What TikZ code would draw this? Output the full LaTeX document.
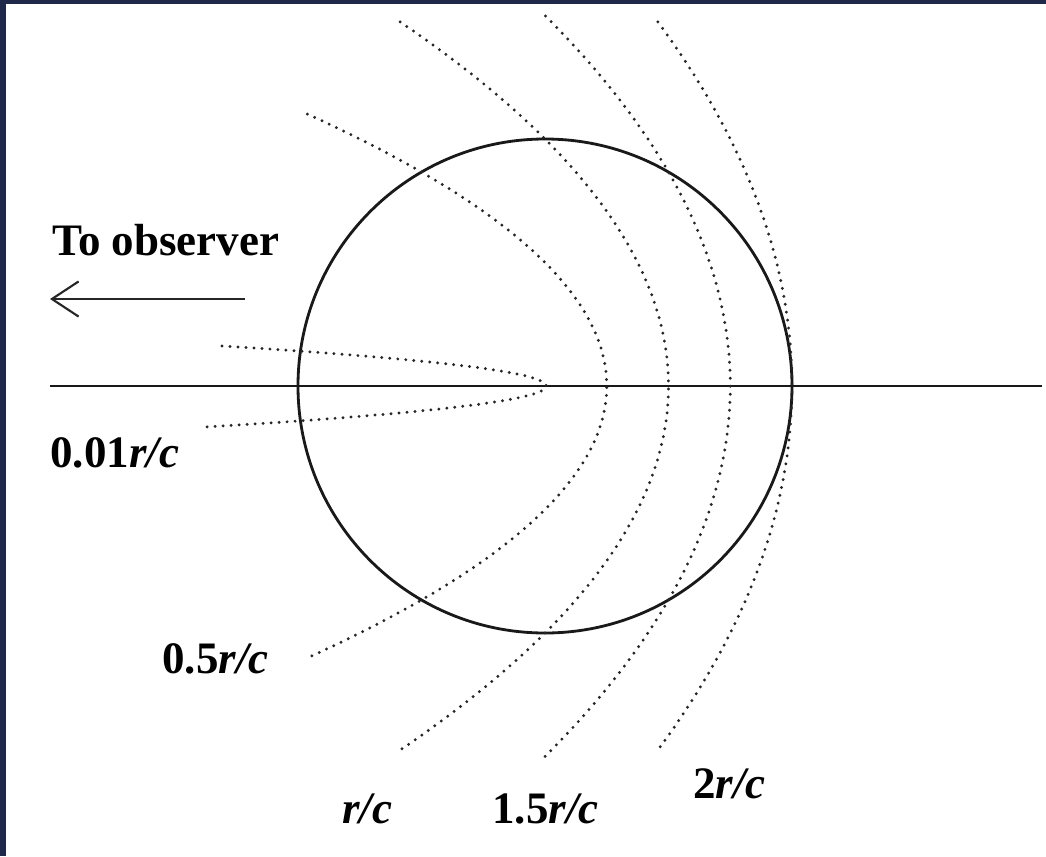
\documentclass[tikz,border=0pt]{standalone}
\usepackage{fontspec}
\setmainfont{Liberation Serif}
\usetikzlibrary{arrows.meta}
\definecolor{frameblue}{HTML}{1F2849}
\begin{document}
\begin{tikzpicture}[x=0.025cm, y=-0.025cm,
  lbl/.style={font=\fontsize{32}{38}\selectfont\bfseries, inner sep=0pt, anchor=base west},
  front/.style={line width=2.3pt, dash pattern=on 0pt off 5.7pt, line cap=round, black!85}]
  \fill[frameblue] (0,0) rectangle (1046,856);
  \fill[white] (6,4) rectangle (1046,856);
  \useasboundingbox (0,0) rectangle (1046,856);
  \coordinate (ctr) at (545,386);
  \coordinate (axisL) at (50,386);
  \coordinate (axisR) at (1042,386);
  \coordinate (tail) at (245,299);
  \coordinate (tip) at (50,299);
  \draw[line width=2pt, black!90] (axisL) -- (axisR);
  \draw[line width=2pt, black!90] (ctr) circle (247);
  \draw[line width=1.5pt, black!85, -{Straight Barb[length=19pt,width=25pt]}] (tail) -- (tip);
  \foreach \t/\a/\b in {0.01/-0.162/0.166, 0.5/-1.101/1.101, 1/-1.474/1.474, 1.5/-1.498/1.502, 2/-1.474/1.486}
    \draw[front] plot[domain=\a:\b, samples=80, smooth, variable=\s]
      ({545+247*(\t/2-\s*\s/(2*\t))}, {386+247*\s});
  \node[lbl] (obs) at (52,255) {To observer};
  \node[lbl] (t001) at (50,467) {0.01\textit{r/c}};
  \node[lbl] (t05) at (162,673) {0.5\textit{r/c}};
  \node[lbl] (t1) at (342,823) {\textit{r/c}};
  \node[lbl] (t15) at (492,823) {1.5\textit{r/c}};
  \node[lbl] (t2) at (693,798) {2\textit{r/c}};
\end{tikzpicture}
\end{document}
